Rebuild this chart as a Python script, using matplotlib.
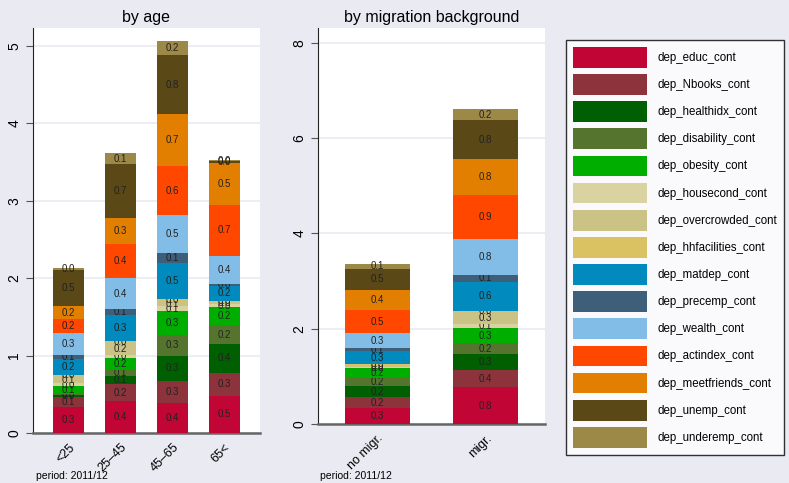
import matplotlib.pyplot as plt
import numpy as np
from matplotlib.patches import Patch

plt.rcParams['font.family'] = ['Liberation Sans', 'DejaVu Sans']

series = ['dep_educ_cont', 'dep_Nbooks_cont', 'dep_healthidx_cont', 'dep_disability_cont',
          'dep_obesity_cont', 'dep_housecond_cont', 'dep_overcrowded_cont', 'dep_hhfacilities_cont',
          'dep_matdep_cont', 'dep_precemp_cont', 'dep_wealth_cont', 'dep_actindex_cont',
          'dep_meetfriends_cont', 'dep_unemp_cont', 'dep_underemp_cont']
colors = ['#C10534', '#8C333B', '#005F00', '#55752F', '#00AE00', '#D9D3A2', '#CBC386', '#DAC263',
          '#008ABD', '#3D5F7A', '#82BDE8', '#FF4700', '#E37F00', '#5A4817', '#9C8947']

age_groups = ['<25', '25–45', '45–65', '65<']
age_lt25 = [0.33, 0.14, 0.02, 0.02, 0.10, 0.03, 0.10, 0.01, 0.20, 0.06, 0.28, 0.18, 0.17, 0.46, 0.03]
age_25_45 = [0.41, 0.22, 0.10, 0.08, 0.16, 0.04, 0.16, 0.02, 0.34, 0.07, 0.40, 0.44, 0.33, 0.70, 0.14]
age_45_65 = [0.39, 0.28, 0.33, 0.27, 0.30, 0.07, 0.06, 0.03, 0.47, 0.12, 0.49, 0.64, 0.67, 0.76, 0.18]
age_65up = [0.48, 0.30, 0.37, 0.24, 0.24, 0.03, 0.03, 0.02, 0.19, 0.03, 0.36, 0.66, 0.54, 0.02, 0.01]

migr_groups = ['no migr.', 'migr.']
no_migr = [0.33, 0.23, 0.23, 0.17, 0.21, 0.03, 0.04, 0.02, 0.27, 0.06, 0.32, 0.48, 0.42, 0.45, 0.10]
migr = [0.77, 0.36, 0.33, 0.23, 0.33, 0.07, 0.28, 0.01, 0.61, 0.13, 0.76, 0.92, 0.76, 0.81, 0.24]

bg = '#EAEAF2'
W, H = 789, 483
fig = plt.figure(figsize=(W / 100, H / 100), dpi=100, facecolor=bg)


def stacked(ax, groups, columns, ylim, yticks, title):
    vals = np.array(columns).T
    x = np.arange(len(groups))
    bottom = np.zeros(len(groups))
    for i, name in enumerate(series):
        bars = ax.bar(x, vals[i], 0.6, bottom=bottom, color=colors[i], linewidth=0, zorder=3)
        ax.bar_label(bars, fmt='%.1f', label_type='center', fontsize=7, color='#222222')
        bottom += vals[i]
    ax.set_facecolor('white')
    ax.set_ylim(0, ylim)
    ax.set_yticks(yticks)
    ax.set_xticks(x)
    ax.set_xticklabels(groups, rotation=45, ha='right', rotation_mode='anchor', fontsize=9)
    ax.tick_params(axis='x', length=0, pad=6)
    ax.tick_params(axis='y', length=5, labelsize=10, labelrotation=90, color='#555555')
    for t in ax.get_yticklabels():
        t.set_va('center')
    ax.yaxis.grid(True, color=bg, linewidth=1.2, zorder=0)
    ax.set_axisbelow(True)
    ax.spines['top'].set_visible(False)
    ax.spines['right'].set_visible(False)
    ax.spines['left'].set_color('#222222')
    ax.spines['bottom'].set_color('#666666')
    ax.spines['bottom'].set_linewidth(1.8)
    ax.set_title(title, fontsize=11.5, pad=4)


ax1 = fig.add_axes([33 / W, 1 - 433 / H, 227 / W, 405 / H])
stacked(ax1, age_groups, [age_lt25, age_25_45, age_45_65, age_65up], 5.23, range(6), 'by age')
ax1.set_xlim(-0.69, 3.69)

ax2 = fig.add_axes([318 / W, 1 - 424 / H, 227 / W, 396 / H])
stacked(ax2, migr_groups, [no_migr, migr], 8.31, [0, 2, 4, 6, 8], 'by migration background')
ax2.set_xlim(-0.545, 1.55)

fig.text(36 / W, 1 - 476 / H, 'period: 2011/12', fontsize=7.5, va='center')
fig.text(320 / W, 1 - 476 / H, 'period: 2011/12', fontsize=7.5, va='center')

handles = [Patch(facecolor=c, edgecolor='none') for c in colors]
leg = fig.legend(handles, series, loc='upper left', bbox_to_anchor=(566 / W, 1 - 40 / H),
                 fontsize=8.3, frameon=True, fancybox=False, edgecolor='black',
                 handlelength=6.4, handleheight=2.4, handletextpad=0.95,
                 labelspacing=0.55, borderpad=0.6, borderaxespad=0)
leg.get_frame().set_linewidth(1)

fig.savefig('out.png', dpi=100, facecolor=bg)
